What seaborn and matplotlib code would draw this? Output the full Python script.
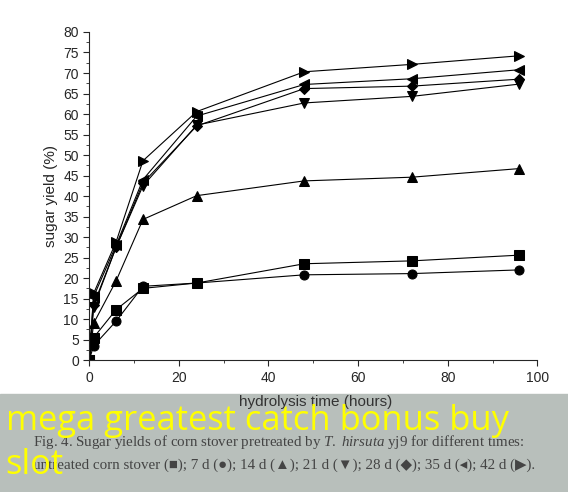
import numpy as np
import matplotlib
matplotlib.use('Agg')
import matplotlib.pyplot as plt
import seaborn as sns
import pandas as pd

sns.set_style('ticks')
plt.rcParams['font.family'] = ['Liberation Sans', 'DejaVu Sans']
plt.rcParams['mathtext.fontset'] = 'custom'
plt.rcParams['mathtext.it'] = 'Liberation Serif:italic'
plt.rcParams['mathtext.rm'] = 'Liberation Serif'

hours = [0, 1, 6, 12, 24, 48, 72, 96]
untreated = [0, 5.5, 12.3, 17.5, 18.8, 23.5, 24.2, 25.6]
d7 = [0, 3.5, 9.5, 18.0, 18.8, 20.8, 21.1, 22.0]
d14 = [0, 9.0, 19.3, 34.3, 40.1, 43.7, 44.6, 46.7]
d21 = [0, 13.0, 27.5, 42.5, 57.3, 62.7, 64.3, 67.3]
d28 = [0, 13.5, 27.5, 43.2, 57.1, 66.2, 66.8, 68.5]
d35 = [0, 15.5, 28.0, 44.0, 59.5, 67.2, 68.6, 70.8]
d42 = [0, 16.3, 28.8, 48.6, 60.6, 70.3, 72.1, 74.2]

series = {'untreated': (untreated, 's'), '7 d': (d7, 'o'), '14 d': (d14, '^'),
          '21 d': (d21, 'v'), '28 d': (d28, 'D'), '35 d': (d35, '<'), '42 d': (d42, '>')}

fig = plt.figure(figsize=(5.68, 4.92), dpi=100)
ax = fig.add_axes([0.157, 0.268, 0.789, 0.667])
for name, (vals, mk) in series.items():
    df = pd.DataFrame({'t': hours, 'y': vals})
    sns.lineplot(data=df, x='t', y='y', ax=ax, color='black', lw=0.8, marker=mk,
                 markersize=6.5 if mk != 'D' else 5.5, markeredgecolor='black')

ax.set_xlim(0, 100)
ax.set_ylim(0, 80)
ax.set_xticks(range(0, 101, 20))
ax.set_xticks(range(0, 101, 10), minor=True)
ax.set_yticks(range(0, 81, 5))
ax.set_yticks(np.arange(0, 81, 2.5), minor=True)
ax.tick_params(labelsize=10, direction='out', length=4)
ax.tick_params(which='minor', length=2.5)
sns.despine(ax=ax)
ax.set_xlabel('')
ax.set_ylabel('sugar yield (%)', fontsize=11)

fig.patches.append(plt.Rectangle((0, 0), 1, 98 / 492, transform=fig.transFigure,
                                 color='#b8bfbb', zorder=0))
fig.text(0.555, 0.183, 'hydrolysis time (hours)', ha='center', va='center', fontsize=11, color='#333333')
cap = dict(fontsize=10.8, family=['Liberation Serif', 'DejaVu Serif'], color='#444444', va='center')
fig.text(0.058, 0.101, 'Fig. 4. Sugar yields of corn stover pretreated by $T.\\ hirsuta$ yj9 for different times:', **cap)
fig.text(0.058, 0.055, 'untreated corn stover (■); 7 d (●); 14 d (▲); 21 d (▼); 28 d (◆); 35 d (◂); 42 d (▶).', **cap)
fig.text(0.01, 0.145, 'mega greatest catch bonus buy', fontsize=24.8, family='Open Sans',
         color='#ffff00', va='center')
fig.text(0.01, 0.055, 'slot', fontsize=24.8, family='Open Sans', color='#ffff00', va='center')

fig.savefig('out.png', dpi=100)
